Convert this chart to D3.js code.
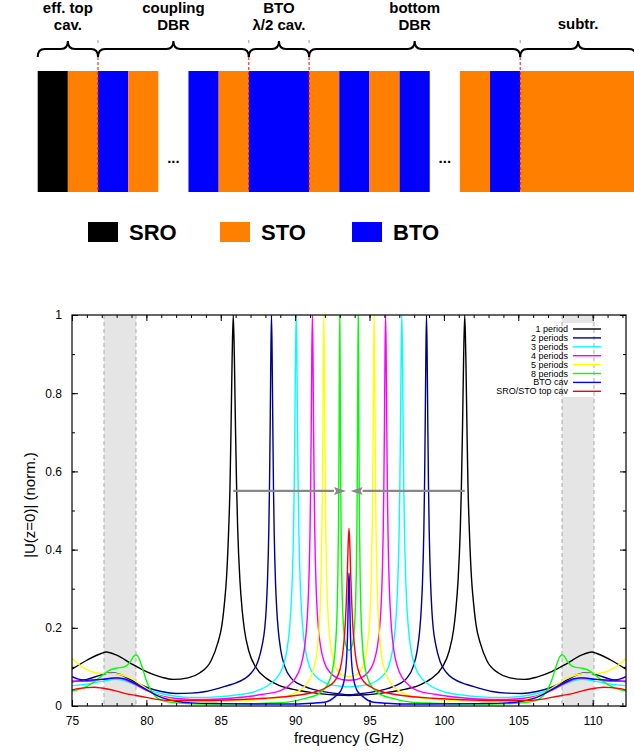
<!DOCTYPE html>
<html>
<head>
<meta charset="utf-8">
<script src="https://cdn.jsdelivr.net/npm/d3@7"></script>
<style>
body { margin: 0; background: #fff; }
svg { display: block; font-family: "Liberation Sans", Arial, sans-serif; }
</style>
</head>
<body>
<svg id="chart" width="634" height="753"></svg>
<script>
// layer stack, thickness in layer units ("" = gap shown as ...)
var layerMaterial = ["SRO","STO","BTO","STO","","BTO","STO","BTO","STO","BTO","STO","BTO","","STO","BTO","STO"];
var layerThickness = [1,1,1,1,1,1,1,2,1,1,1,1,1,1,1,3.84];
var braceTop = ["eff. top","coupling","BTO","bottom",""];
var braceBottom = ["cav.","DBR","\u03bb/2 cav.","DBR","subtr."];
var braceStart = [0,2,7,9,16];
var braceEnd = [2,7,9,16,19.84];
var materialNames = ["SRO","STO","BTO"];
var materialColors = ["#000000","#ff7f00","#0000ff"];

// spectra
var freqTicks = [75,80,85,90,95,100,105,110];
var ampTicks = [0,0.2,0.4,0.6,0.8,1];
var ampTickLabels = ["0","0.2","0.4","0.6","0.8","1"];
var shadedBands = [[77.15,79.3],[107.94,110.09]];
var arrowFrom = [85.84,101.40];
var arrowTo = [93.42,93.73];
var arrowLevel = 0.55;
var seriesNames = ["1 period","2 periods","3 periods","4 periods","5 periods","8 periods","BTO cav","SRO/STO top cav"];
var seriesColors = ["#000000","#00008b","#00ffff","#ff00ff","#ffff00","#00ff00","#0000ff","#ff0000"];

var period1 = [[75,0.094],[76,0.117],[77,0.135],[77.3,0.138],[78,0.13],[79,0.108],[80,0.088],[81,0.074],[81.8,0.068],[82.8,0.072],[83.6,0.085],[84.34,0.115],[84.79,0.16],[85.09,0.21],[85.24,0.26],[85.39,0.33],[85.54,0.46],[85.62,0.56],[85.69,0.71],[85.765,0.89],[85.84,1],[85.915,0.89],[85.99,0.71],[86.065,0.56],[86.14,0.45],[86.29,0.32],[86.44,0.245],[86.59,0.195],[86.89,0.14],[87.34,0.1],[88.09,0.07],[88.84,0.054],[89.8,0.043],[90.8,0.036],[91.8,0.031],[92.8,0.028],[93.62,0.027],[94.44,0.028],[95.44,0.031],[96.44,0.036],[97.44,0.043],[98.4,0.054],[99.15,0.07],[99.9,0.1],[100.35,0.14],[100.65,0.195],[100.8,0.245],[100.95,0.32],[101.1,0.45],[101.175,0.56],[101.25,0.71],[101.325,0.89],[101.4,1],[101.475,0.89],[101.55,0.71],[101.62,0.56],[101.7,0.46],[101.85,0.33],[102,0.26],[102.15,0.21],[102.45,0.16],[102.9,0.115],[103.64,0.085],[104.44,0.072],[105.44,0.068],[106.24,0.074],[107.24,0.088],[108.24,0.108],[109.24,0.13],[109.94,0.138],[110.24,0.135],[111.24,0.117],[112.24,0.094]];
var period2 = [[75,0.062],[76,0.068],[77,0.08],[77.6,0.085],[78.3,0.08],[79,0.066],[80,0.048],[81,0.037],[82,0.032],[83,0.033],[84,0.037],[85,0.047],[85.71,0.055],[86.61,0.07],[87.06,0.085],[87.51,0.115],[87.78,0.155],[87.96,0.2],[88.05,0.245],[88.14,0.32],[88.23,0.45],[88.275,0.56],[88.32,0.71],[88.365,0.89],[88.41,1],[88.455,0.89],[88.5,0.71],[88.545,0.555],[88.59,0.447],[88.68,0.316],[88.77,0.243],[88.86,0.196],[89.04,0.141],[89.31,0.1],[89.76,0.07],[90.21,0.057],[91,0.045],[92,0.036],[93,0.031],[93.62,0.029],[94.24,0.031],[95.24,0.036],[96.24,0.045],[97.03,0.057],[97.48,0.07],[97.93,0.1],[98.2,0.141],[98.38,0.196],[98.47,0.243],[98.56,0.316],[98.65,0.447],[98.695,0.555],[98.74,0.71],[98.785,0.89],[98.83,1],[98.875,0.89],[98.92,0.71],[98.965,0.56],[99.01,0.45],[99.1,0.32],[99.19,0.245],[99.28,0.2],[99.46,0.155],[99.73,0.115],[100.18,0.085],[100.63,0.07],[101.53,0.055],[102.24,0.047],[103.24,0.037],[104.24,0.033],[105.24,0.032],[106.24,0.037],[107.24,0.048],[108.24,0.066],[108.94,0.08],[109.64,0.085],[110.24,0.08],[111.24,0.068],[112.24,0.062]];
var period3 = [[75,0.052],[76,0.056],[77,0.063],[78,0.068],[79,0.058],[80,0.042],[81,0.032],[82,0.025],[83,0.022],[84,0.022],[85,0.024],[86,0.028],[87,0.034],[87.37,0.038],[88.27,0.055],[88.72,0.07],[89.17,0.1],[89.44,0.141],[89.62,0.196],[89.71,0.243],[89.8,0.316],[89.89,0.447],[89.935,0.555],[89.98,0.707],[90.025,0.894],[90.07,1],[90.115,0.894],[90.16,0.707],[90.205,0.555],[90.25,0.447],[90.34,0.316],[90.43,0.243],[90.52,0.196],[90.7,0.141],[90.97,0.1],[91.42,0.075],[91.87,0.062],[92.77,0.052],[93.62,0.049],[94.47,0.052],[95.37,0.062],[95.82,0.075],[96.27,0.1],[96.54,0.141],[96.72,0.196],[96.81,0.243],[96.9,0.316],[96.99,0.447],[97.035,0.555],[97.08,0.707],[97.125,0.894],[97.17,1],[97.215,0.894],[97.26,0.707],[97.305,0.555],[97.35,0.447],[97.44,0.316],[97.53,0.243],[97.62,0.196],[97.8,0.141],[98.07,0.1],[98.52,0.07],[98.97,0.055],[99.87,0.038],[100.24,0.034],[101.24,0.028],[102.24,0.024],[103.24,0.022],[104.24,0.022],[105.24,0.025],[106.24,0.032],[107.24,0.042],[108.24,0.058],[109.24,0.068],[110.24,0.063],[111.24,0.056],[112.24,0.052]];
var period4 = [[75,0.064],[76,0.063],[77,0.068],[78,0.072],[79,0.06],[80,0.04],[81,0.026],[82,0.019],[83,0.017],[84,0.017],[85,0.018],[86,0.021],[87,0.025],[88,0.031],[88.76,0.036],[89.56,0.052],[89.96,0.068],[90.36,0.1],[90.6,0.141],[90.76,0.196],[90.84,0.243],[90.92,0.316],[91,0.447],[91.04,0.555],[91.08,0.707],[91.12,0.894],[91.16,1],[91.2,0.894],[91.24,0.707],[91.28,0.555],[91.32,0.447],[91.4,0.316],[91.48,0.243],[91.56,0.2],[91.72,0.15],[91.96,0.112],[92.36,0.085],[92.76,0.073],[93.2,0.067],[93.62,0.066],[94.04,0.067],[94.48,0.073],[94.88,0.085],[95.28,0.112],[95.52,0.15],[95.68,0.2],[95.76,0.243],[95.84,0.316],[95.92,0.447],[95.96,0.555],[96,0.707],[96.04,0.894],[96.08,1],[96.12,0.894],[96.16,0.707],[96.2,0.555],[96.24,0.447],[96.32,0.316],[96.4,0.243],[96.48,0.196],[96.64,0.141],[96.88,0.1],[97.28,0.068],[97.68,0.052],[98.48,0.036],[99.24,0.031],[100.24,0.025],[101.24,0.021],[102.24,0.018],[103.24,0.017],[104.24,0.017],[105.24,0.019],[106.24,0.026],[107.24,0.04],[108.24,0.06],[109.24,0.072],[110.24,0.068],[111.24,0.063],[112.24,0.064]];
var period5 = [[75,0.122],[75.5,0.105],[76,0.093],[77,0.083],[77.6,0.084],[78.3,0.08],[79,0.07],[79.8,0.05],[80.5,0.032],[81,0.024],[82,0.015],[83,0.012],[84,0.011],[85,0.012],[86,0.013],[87,0.015],[88,0.018],[89,0.022],[89.98,0.033],[90.63,0.05],[90.955,0.067],[91.28,0.1],[91.475,0.141],[91.605,0.196],[91.67,0.243],[91.735,0.316],[91.8,0.447],[91.833,0.555],[91.865,0.707],[91.898,0.894],[91.93,1],[91.963,0.894],[91.995,0.707],[92.028,0.555],[92.06,0.447],[92.125,0.316],[92.19,0.25],[92.255,0.205],[92.385,0.155],[92.58,0.115],[92.905,0.087],[93.25,0.078],[93.62,0.075],[93.99,0.078],[94.335,0.087],[94.66,0.115],[94.855,0.155],[94.985,0.205],[95.05,0.25],[95.115,0.316],[95.18,0.447],[95.212,0.555],[95.245,0.707],[95.277,0.894],[95.31,1],[95.342,0.894],[95.375,0.707],[95.407,0.555],[95.44,0.447],[95.505,0.316],[95.57,0.243],[95.635,0.196],[95.765,0.141],[95.96,0.1],[96.285,0.067],[96.61,0.05],[97.26,0.033],[98.24,0.022],[99.24,0.018],[100.24,0.015],[101.24,0.013],[102.24,0.012],[103.24,0.011],[104.24,0.012],[105.24,0.015],[106.24,0.024],[106.74,0.032],[107.44,0.05],[108.24,0.07],[108.94,0.08],[109.64,0.084],[110.24,0.083],[111.24,0.093],[111.74,0.105],[112.24,0.122]];
var period8 = [[75,0.038],[75.5,0.043],[76,0.05],[76.5,0.062],[77,0.077],[77.5,0.091],[78,0.097],[78.5,0.1],[78.9,0.112],[79.15,0.127],[79.3,0.131],[79.5,0.122],[79.75,0.095],[80,0.065],[80.3,0.04],[80.6,0.025],[81,0.015],[82,0.008],[84,0.005],[86,0.005],[88,0.007],[89.5,0.01],[90.75,0.02],[91.65,0.033],[92.1,0.05],[92.325,0.067],[92.55,0.1],[92.685,0.141],[92.775,0.196],[92.82,0.243],[92.865,0.316],[92.91,0.447],[92.933,0.555],[92.955,0.707],[92.978,0.894],[93,1],[93.023,0.894],[93.045,0.707],[93.068,0.555],[93.09,0.447],[93.135,0.33],[93.18,0.26],[93.225,0.22],[93.315,0.175],[93.45,0.15],[93.62,0.142],[93.79,0.15],[93.925,0.175],[94.015,0.22],[94.06,0.26],[94.105,0.33],[94.15,0.447],[94.172,0.555],[94.195,0.707],[94.217,0.894],[94.24,1],[94.262,0.894],[94.285,0.707],[94.307,0.555],[94.33,0.447],[94.375,0.316],[94.42,0.243],[94.465,0.196],[94.555,0.141],[94.69,0.1],[94.915,0.067],[95.14,0.05],[95.59,0.033],[96.49,0.02],[97.74,0.01],[99.24,0.007],[101.24,0.005],[103.24,0.005],[105.24,0.008],[106.24,0.015],[106.64,0.025],[106.94,0.04],[107.24,0.065],[107.49,0.095],[107.74,0.122],[107.94,0.131],[108.09,0.127],[108.34,0.112],[108.74,0.1],[109.24,0.097],[109.74,0.091],[110.24,0.077],[110.74,0.062],[111.24,0.05],[111.74,0.043],[112.24,0.038]];
var btoCav = [[75,0.075],[75.5,0.068],[76,0.066],[77,0.068],[78,0.072],[78.5,0.07],[79,0.062],[80,0.042],[80.5,0.031],[81,0.022],[82,0.012],[83,0.008],[85,0.006],[88,0.005],[90,0.005],[91.12,0.007],[92.12,0.011],[92.62,0.022],[92.87,0.03],[93.12,0.043],[93.32,0.07],[93.42,0.1],[93.47,0.13],[93.52,0.18],[93.545,0.22],[93.57,0.27],[93.595,0.315],[93.62,0.34],[93.645,0.315],[93.67,0.27],[93.695,0.22],[93.72,0.18],[93.77,0.13],[93.82,0.1],[93.92,0.07],[94.12,0.043],[94.37,0.03],[94.62,0.022],[95.12,0.011],[96.12,0.007],[97.24,0.005],[99.24,0.005],[102.24,0.006],[104.24,0.008],[105.24,0.012],[106.24,0.022],[106.74,0.031],[107.24,0.042],[108.24,0.062],[108.74,0.07],[109.24,0.072],[110.24,0.068],[111.24,0.066],[111.74,0.068],[112.24,0.075]];
var topCav = [[75,0.041],[75.5,0.045],[76,0.047],[76.5,0.048],[77,0.046],[78,0.038],[78.7,0.031],[79.3,0.027],[80,0.022],[80.7,0.017],[82,0.014],[84,0.014],[86,0.016],[88,0.02],[89.62,0.025],[91.12,0.034],[92.12,0.048],[92.62,0.062],[92.87,0.078],[93.12,0.112],[93.245,0.15],[93.37,0.21],[93.432,0.26],[93.495,0.325],[93.557,0.405],[93.62,0.455],[93.683,0.405],[93.745,0.325],[93.808,0.26],[93.87,0.21],[93.995,0.15],[94.12,0.112],[94.37,0.078],[94.62,0.062],[95.12,0.048],[96.12,0.034],[97.62,0.025],[99.24,0.02],[101.24,0.016],[103.24,0.014],[105.24,0.014],[106.54,0.017],[107.24,0.022],[107.94,0.027],[108.54,0.031],[109.24,0.038],[110.24,0.046],[110.74,0.048],[111.24,0.047],[111.74,0.045],[112.24,0.041]];
var seriesData = [period1,period2,period3,period4,period5,period8,btoCav,topCav];

var svg = d3.select("#chart");

// ================= layer sketch =================
var u = d3.scaleLinear().domain([0,19.84]).range([37.7,636]);
var matColor = d3.scaleOrdinal().domain(materialNames).range(materialColors);
var layerStart = Array.from(d3.cumsum([0].concat(layerThickness)));

var sketch = svg.append("g");
layerMaterial.forEach(function(m, i) {
	var x0 = u(layerStart[i]), x1 = u(layerStart[i] + layerThickness[i]);
	if (m == "") {
		sketch.append("text").text("...").attr("x",(x0+x1)/2).attr("y",163)
			.attr("text-anchor","middle").style("font-weight","bold").style("font-size","15px");
	} else {
		sketch.append("rect").attr("x",x0).attr("y",71).attr("width",x1-x0).attr("height",121)
			.attr("fill",matColor(m));
	}
});

// red dashed interfaces
braceStart.slice(1).forEach(function(s) {
	sketch.append("line").attr("x1",u(s)).attr("x2",u(s)).attr("y1",57).attr("y2",192)
		.attr("stroke","#ff0000").attr("stroke-width",1).attr("stroke-dasharray","3,2");
	sketch.append("line").attr("x1",u(s)).attr("x2",u(s)).attr("y1",40).attr("y2",43)
		.attr("stroke","#999").attr("stroke-width",1);
});

function bracePath(a, b) {
	var m = (a+b)/2, r = 7;
	return "M"+a+",57 Q"+a+",49 "+(a+r)+",49 L"+(m-r)+",49 Q"+m+",49 "+m+",41 Q"+m+",49 "+(m+r)+",49 L"+(b-r)+",49 Q"+b+",49 "+b+",57";
}
braceStart.forEach(function(s, i) {
	var a = u(s), b = u(braceEnd[i]);
	sketch.append("path").attr("d",bracePath(a,b)).attr("fill","none").attr("stroke","#000").attr("stroke-width",2);
	sketch.append("text").text(braceTop[i]).attr("x",(a+b)/2).attr("y",13)
		.attr("text-anchor","middle").style("font-weight","bold").style("font-size","15px");
	sketch.append("text").text(braceBottom[i]).attr("x",(a+b)/2).attr("y",i == 4 ? 29 : 30)
		.attr("text-anchor","middle").style("font-weight","bold").style("font-size","15px");
});

// material legend
var matLegend = svg.append("g");
materialNames.forEach(function(m, i) {
	var lx = 88 + i*132;
	matLegend.append("rect").attr("x",lx).attr("y",222).attr("width",30).attr("height",20).attr("fill",matColor(m));
	matLegend.append("text").text(m).attr("x",lx+41).attr("y",240)
		.style("font-weight","bold").style("font-size","22px");
});

// ================= spectrum plot =================
var x = d3.scaleLinear().domain([75,112.24]).range([72,626]);
var y = d3.scaleLinear().domain([0,1]).range([706,315]);
var plot = svg.append("g");

plot.append("clipPath").attr("id","clip").append("rect")
	.attr("x",72).attr("y",315).attr("width",554).attr("height",391);

// shaded bands
plot.selectAll(".band").data(shadedBands).enter().append("rect")
	.attr("x",function(d){ return x(d[0]); }).attr("y",315)
	.attr("width",function(d){ return x(d[1])-x(d[0]); }).attr("height",391)
	.attr("fill","#e5e5e5");

// opaque key box
plot.append("rect").attr("x",494).attr("y",323).attr("width",112).attr("height",74).attr("fill","#fff");

shadedBands.forEach(function(b) {
	b.forEach(function(f) {
		plot.append("line").attr("x1",x(f)).attr("x2",x(f)).attr("y1",315).attr("y2",706)
			.attr("stroke","#aaa").attr("stroke-width",1).attr("stroke-dasharray","4,3");
	});
});

var line = d3.line().x(function(d){ return x(d[0]); }).y(function(d){ return y(d[1]); }).curve(d3.curveMonotoneX);
var curves = plot.append("g").attr("clip-path","url(#clip)");
seriesData.forEach(function(s, i) {
	curves.append("path").attr("d",line(s)).attr("fill","none")
		.attr("stroke",seriesColors[i]).attr("stroke-width",1.4);
});

// arrows
arrowFrom.forEach(function(f, i) {
	var x0 = x(f), x1 = x(arrowTo[i]), yy = y(arrowLevel);
	var dir = x1 > x0 ? 1 : -1, head = 12;
	plot.append("line").attr("x1",x0).attr("x2",x1-dir*head).attr("y1",yy).attr("y2",yy)
		.attr("stroke","#888").attr("stroke-width",2.2);
	plot.append("path").attr("d","M"+x1+","+yy+" L"+(x1-dir*head)+","+(yy-4)+" L"+(x1-dir*head+dir*2)+","+yy+" L"+(x1-dir*head)+","+(yy+4)+" Z")
		.attr("fill","#888");
});

// axes
function styleAxis(g) {
	g.select(".domain").remove();
	g.selectAll("text").style("font-size","12px").attr("fill","#000");
	g.selectAll("line").attr("stroke","#000");
}
plot.append("g").attr("transform","translate(0,706)")
	.call(d3.axisBottom(x).tickValues(d3.range(75,113,1)).tickSize(-3).tickFormat(""))
	.call(styleAxis);
plot.append("g").attr("transform","translate(0,706)")
	.call(d3.axisBottom(x).tickValues(freqTicks).tickSize(-6).tickPadding(10).tickFormat(d3.format("d")))
	.call(styleAxis);
plot.append("g").attr("transform","translate(0,315)")
	.call(d3.axisTop(x).tickValues(d3.range(75,113,1)).tickSize(-3).tickFormat(""))
	.call(styleAxis);
plot.append("g").attr("transform","translate(0,315)")
	.call(d3.axisTop(x).tickValues(freqTicks).tickSize(-6).tickFormat(""))
	.call(styleAxis);
plot.append("g").attr("transform","translate(72,0)")
	.call(d3.axisLeft(y).tickValues(d3.range(0,1.01,0.1)).tickSize(-3).tickFormat(""))
	.call(styleAxis);
plot.append("g").attr("transform","translate(72,0)")
	.call(d3.axisLeft(y).tickValues(ampTicks).tickSize(-6).tickPadding(10).tickFormat(function(d,i){ return ampTickLabels[i]; }))
	.call(styleAxis);
plot.append("g").attr("transform","translate(626,0)")
	.call(d3.axisRight(y).tickValues(d3.range(0,1.01,0.1)).tickSize(-3).tickFormat(""))
	.call(styleAxis);
plot.append("g").attr("transform","translate(626,0)")
	.call(d3.axisRight(y).tickValues(ampTicks).tickSize(-6).tickFormat(""))
	.call(styleAxis);

plot.append("rect").attr("x",72).attr("y",315).attr("width",554).attr("height",391)
	.attr("fill","none").attr("stroke","#000").attr("stroke-width",1.2);

plot.append("text").text("frequency (GHz)").attr("x",349).attr("y",743)
	.attr("text-anchor","middle").style("font-size","15px");
plot.append("text").text("|U(z=0)| (norm.)").attr("transform","translate(35,505) rotate(-90)")
	.attr("text-anchor","middle").style("font-size","15px");

// key
seriesNames.forEach(function(n, i) {
	var ky = 332 + i*8.9;
	plot.append("text").text(n).attr("x",568).attr("y",ky).attr("text-anchor","end").style("font-size","9px");
	plot.append("line").attr("x1",573).attr("x2",601).attr("y1",ky-3).attr("y2",ky-3)
		.attr("stroke",seriesColors[i]).attr("stroke-width",1.4);
});
</script>
</body>
</html>
